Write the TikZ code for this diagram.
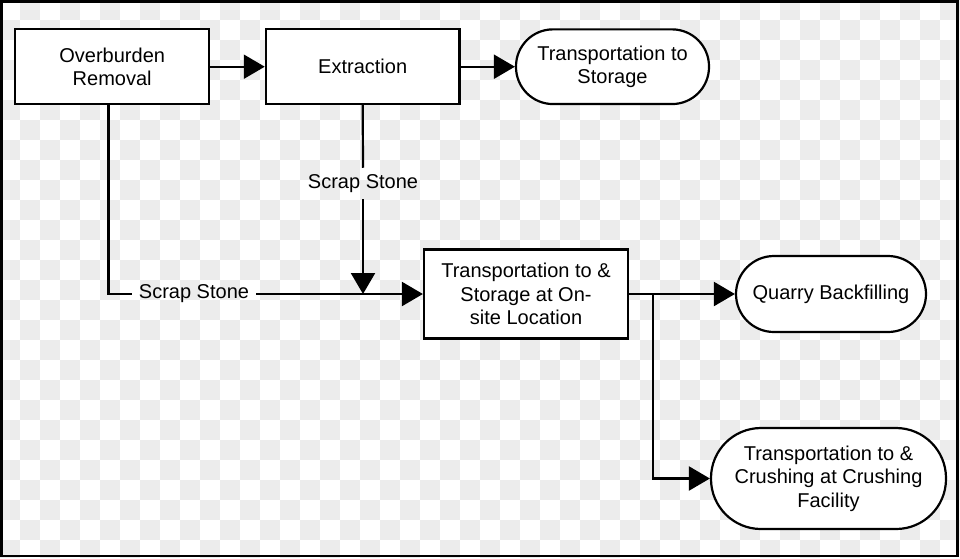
\documentclass[tikz,border=0pt]{standalone}
\usepackage{fontspec}
\setmainfont{Liberation Sans}
\usetikzlibrary{arrows.meta}
\definecolor{chk}{RGB}{236,236,236}
\begin{document}
\begin{tikzpicture}[x=1pt,y=-1pt,
  lw/.style={line width=2.2pt},
  box/.style={draw, lw, fill=white, align=center, inner sep=0pt,
    font=\fontsize{20}{23.5}\selectfont},
  lab/.style={align=center, inner xsep=7pt, inner ysep=6.5pt,
    font=\fontsize{20}{23.5}\selectfont},
  arr/.style={lw, -{Triangle[length=21pt,width=24pt]}},
  ln/.style={lw}]
\useasboundingbox (0,0) rectangle (960,558);
\fill[white] (0,0) rectangle (960,558);
\foreach \i in {0,40,...,920}{
  \foreach \j in {20,60,...,500}{
    \fill[chk] (\i,\j) rectangle (\i+20,\j+20);
  }
  \fill[chk] (\i,540) rectangle (\i+20,558);
}
\foreach \i in {20,60,...,940}{
  \foreach \j in {0,40,...,520}{
    \fill[chk] (\i,\j) rectangle (\i+20,\j+20);
  }
}
\draw[line width=2.6pt] (1.5,1.5) rectangle (957.3,555.8);

\node[box, minimum width=193.7pt, minimum height=74.7pt] (ob) at (112.2,66.7) {Overburden\\Removal};
\node[box, minimum width=193.7pt, minimum height=74.7pt] (ex) at (362.7,66.7) {Extraction};
\node[box, rounded corners=37pt, minimum width=193pt, minimum height=74.7pt] (ts) at (612.5,66.7) {Transportation to\\Storage};
\node[box, minimum width=204pt, minimum height=89pt] (os) at (526,294) {Transportation to \&\\Storage at On-\\site Location};
\node[box, rounded corners=38pt, minimum width=190pt, minimum height=76pt] (qb) at (831,294) {Quarry Backfilling};
\node[box, rounded corners=50pt, minimum width=235pt, minimum height=101pt] (cf) at (828.5,478.5) {Transportation to \&\\Crushing at Crushing\\Facility};

\node[lab] (l1) at (363,183.5) {Scrap Stone};
\node[lab] (l2) at (194,294) {Scrap Stone};
\coordinate (jn) at (363,294);
\coordinate (c1) at (108.5,294);
\coordinate (br) at (653,294);

\draw[arr] (ob.east) -- (ex.west);
\draw[arr] (ex.east) -- (ts.west);
\draw[ln] (ex.south) -- (l1.north);
\draw[arr] (l1.south) -- (jn);
\draw[ln] (ob.south -| c1) -- (c1) -- (l2.west);
\draw[arr] (l2.east) -- (os.west);
\draw[arr] (os.east) -- (qb.west);
\draw[arr] (br) |- (cf.west);
\end{tikzpicture}
\end{document}
